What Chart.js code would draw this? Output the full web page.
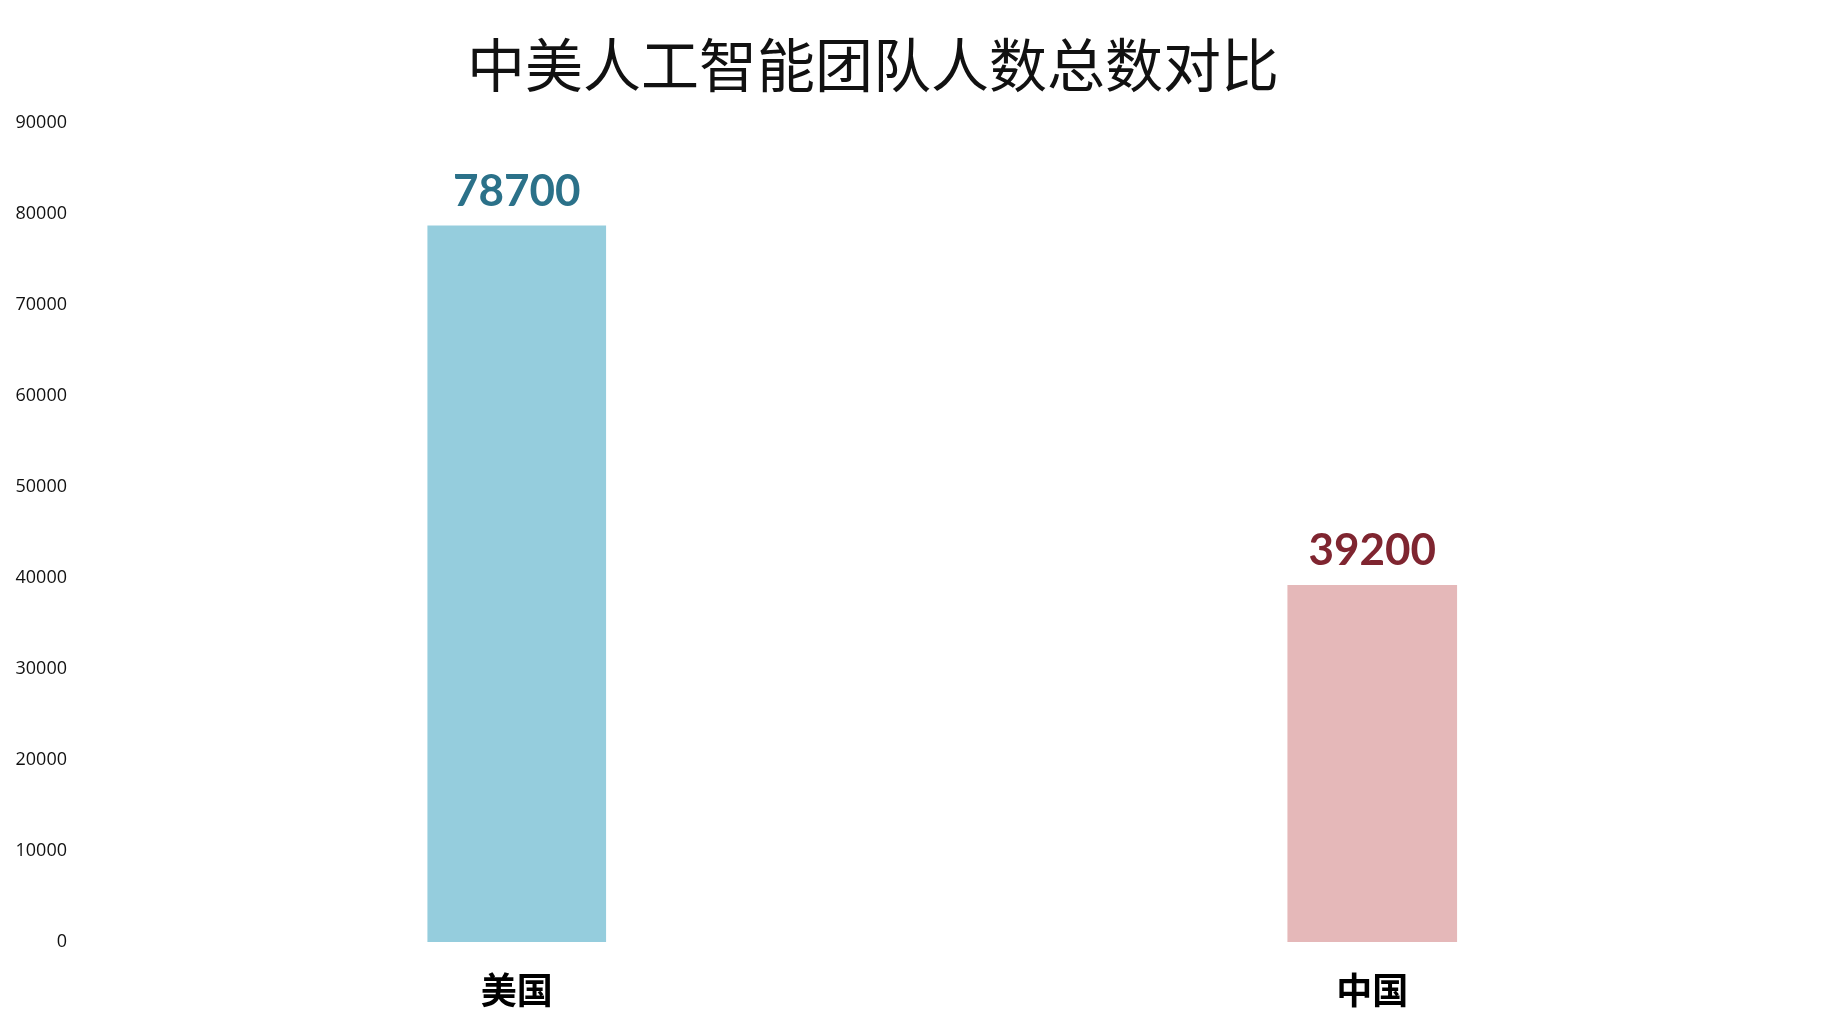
<!DOCTYPE html>
<html>
<head>
<meta charset="utf-8">
<script src="https://cdn.jsdelivr.net/npm/chart.js@4"></script>
<style>
  html, body { margin: 0; padding: 0; background: #fff; }
  #wrap { position: relative; width: 1826px; height: 1015px; }
  #title {
    position: absolute; left: 0; top: 24px; width: 1746px;
    text-align: center; font-family: 'Noto Sans CJK SC', sans-serif;
    font-size: 58px; font-weight: 400; color: #111; line-height: 76px;
  }
</style>
</head>
<body>
<div id="wrap">
  <div id="title">中美人工智能团队人数总数对比</div>
  <canvas id="chart" width="1826" height="1015"></canvas>
</div>
<script>
// Chart data
const categories = ['美国', '中国'];
const usaValues = [78700, null];
const chinaValues = [null, 39200];
const yMax = 90000;
const yStep = 10000;

const barColors = ['#95cddd', '#e5b8b9'];
const labelColors = ['#2b7189', '#7f2530'];

// draws the number above each bar
const valueLabels = {
  id: 'valueLabels',
  afterDatasetsDraw(chart) {
    const ctx = chart.ctx;
    ctx.save();
    ctx.font = "bold 44px 'Lato', sans-serif";
    ctx.textAlign = 'center';
    ctx.textBaseline = 'bottom';
    chart.data.datasets.forEach((ds, di) => {
      const meta = chart.getDatasetMeta(di);
      meta.data.forEach((bar, i) => {
        const v = ds.data[i];
        if (v === null) return;
        ctx.fillStyle = labelColors[di];
        ctx.fillText(String(v), bar.x, bar.y - 12);
      });
    });
    ctx.restore();
  }
};

new Chart(document.getElementById('chart'), {
  type: 'bar',
  data: {
    labels: categories,
    datasets: [
      { label: '美国', data: usaValues, backgroundColor: barColors[0], barThickness: 178 },
      { label: '中国', data: chinaValues, backgroundColor: barColors[1], barThickness: 169 },
    ],
  },
  options: {
    responsive: false,
    animation: false,
    grouped: false,
    skipNull: true,
    layout: { padding: { top: 123, right: 26, bottom: 0, left: 0 } },
    plugins: {
      legend: { display: false },
      tooltip: { enabled: false },
    },
    scales: {
      x: {
        afterFit(scale) { scale.height = 73; },
        grid: { display: false, drawTicks: false },
        border: { display: false },
        ticks: {
          padding: 27,
          color: '#000',
          font: { size: 36, weight: 'bold', family: "'Noto Sans CJK SC', sans-serif" },
        },
      },
      y: {
        min: 0,
        max: yMax,
        afterFit(scale) { scale.width = 89; },
        grid: { display: false, drawTicks: false },
        border: { display: false },
        ticks: {
          stepSize: yStep,
          padding: 22,
          color: '#111',
          font: { size: 18, family: "'Open Sans', sans-serif" },
          callback: (v) => String(v),
        },
      },
    },
  },
  plugins: [valueLabels],
});
</script>
</body>
</html>
